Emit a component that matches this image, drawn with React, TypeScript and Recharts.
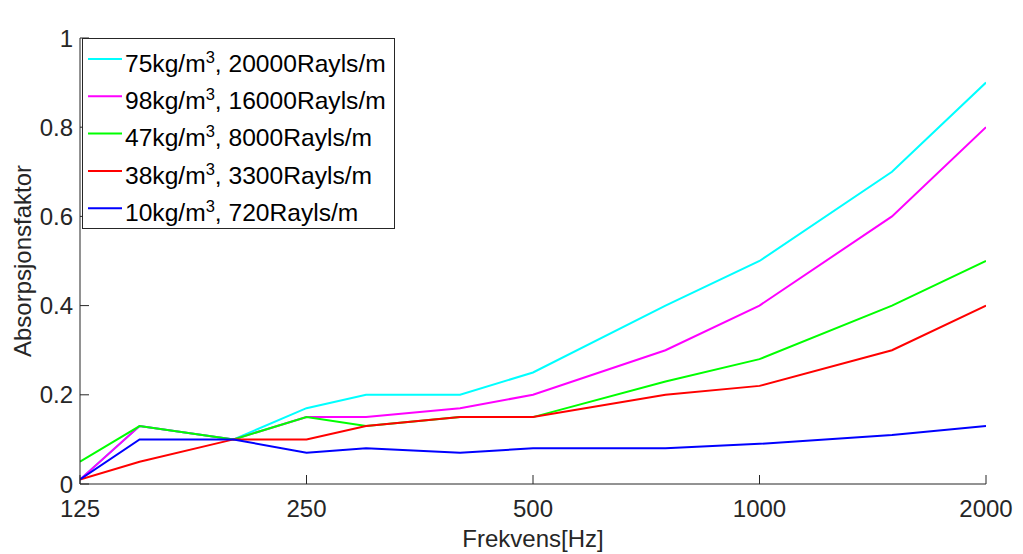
import React from 'react';
import { LineChart, Line, XAxis, YAxis, Legend, Label } from 'recharts';

const FREQS = [125, 150, 200, 250, 300, 400, 500, 750, 1000, 1500, 2000];
const CYAN_75 = [0.01, 0.13, 0.10, 0.17, 0.20, 0.20, 0.25, 0.40, 0.50, 0.70, 0.90];
const MAGENTA_98 = [0.01, 0.13, 0.10, 0.15, 0.15, 0.17, 0.20, 0.30, 0.40, 0.60, 0.80];
const GREEN_47 = [0.05, 0.13, 0.10, 0.15, 0.13, 0.15, 0.15, 0.23, 0.28, 0.40, 0.50];
const RED_38 = [0.01, 0.05, 0.10, 0.10, 0.13, 0.15, 0.15, 0.20, 0.22, 0.30, 0.40];
const BLUE_10 = [0.01, 0.10, 0.10, 0.07, 0.08, 0.07, 0.08, 0.08, 0.09, 0.11, 0.13];

const X_TICKS = [125, 250, 500, 1000, 2000];
const Y_TICKS = [0, 0.2, 0.4, 0.6, 0.8, 1];

const SERIES = [
  { key: 's75', values: CYAN_75, color: '#00FFFF', dens: '75', rest: ', 20000Rayls/m' },
  { key: 's98', values: MAGENTA_98, color: '#FF00FF', dens: '98', rest: ', 16000Rayls/m' },
  { key: 's47', values: GREEN_47, color: '#00FF00', dens: '47', rest: ', 8000Rayls/m' },
  { key: 's38', values: RED_38, color: '#FF0000', dens: '38', rest: ', 3300Rayls/m' },
  { key: 's10', values: BLUE_10, color: '#0000FF', dens: '10', rest: ', 720Rayls/m' },
];

const data = FREQS.map((f, i) => {
  const row: Record<string, number> = { freq: f };
  SERIES.forEach((s) => {
    row[s.key] = s.values[i];
  });
  return row;
});

const FONT = '"Liberation Sans", Arial, Helvetica, sans-serif';
const AX = '#262626';
const TICK_LEN = 9;
const FS = 24;

const BottomTick = (props: any) => {
  const { x, y, payload } = props;
  const axisY = y - 16;
  return (
    <g>
      <line x1={x} x2={x} y1={axisY} y2={axisY - TICK_LEN} stroke={AX} strokeWidth={1} />
      <text x={x} y={y} dy={17} textAnchor="middle" fontFamily={FONT} fontSize={FS} fill={AX}>
        {String(payload.value)}
      </text>
    </g>
  );
};

const TopTick = (props: any) => {
  const { x, y } = props;
  return <line x1={x} x2={x} y1={y} y2={y + TICK_LEN} stroke={AX} strokeWidth={1} />;
};

const LeftTick = (props: any) => {
  const { x, y, payload } = props;
  const axisX = x + 7;
  return (
    <g>
      <line x1={axisX} x2={axisX + TICK_LEN} y1={y} y2={y} stroke={AX} strokeWidth={1} />
      <text x={x} y={y} dy={8.5} textAnchor="end" fontFamily={FONT} fontSize={FS} fill={AX}>
        {String(Math.round(payload.value * 10) / 10)}
      </text>
    </g>
  );
};

const RightTick = (props: any) => {
  const { x, y } = props;
  return <line x1={x} x2={x - TICK_LEN} y1={y} y2={y} stroke={AX} strokeWidth={1} />;
};

const LegendBox = () => {
  const w = 313;
  const h = 191;
  const rowH = 37.3;
  return (
    <svg width={w} height={h} style={{ display: 'block' }}>
      <rect x={0.5} y={0.5} width={w - 1} height={h - 1} fill="#fff" stroke={AX} strokeWidth={1} />
      {SERIES.map((s, i) => {
        const ly = 21 + i * rowH;
        return (
          <g key={s.key}>
            <line x1={6} x2={40} y1={ly} y2={ly} stroke={s.color} strokeWidth={2} />
            <text x={43} y={ly + 12.7} fontFamily={FONT} fontSize={24.6} fill="#000">
              {s.dens}kg/m
              <tspan dy={-9} fontSize={16.5}>3</tspan>
              <tspan dy={9}>{s.rest}</tspan>
            </text>
          </g>
        );
      })}
    </svg>
  );
};

export default function App() {
  return (
    <div style={{ position: 'absolute', left: 0, top: 0, width: 1023, height: 554, background: '#fff' }}>
      <LineChart width={1023} height={554} data={data} margin={{ top: 38, right: 37, bottom: 0, left: 0 }}>
        <XAxis
          xAxisId="b"
          dataKey="freq"
          type="number"
          scale="log"
          domain={[125, 2000]}
          ticks={X_TICKS}
          allowDataOverflow
          height={70}
          tickSize={0}
          tickMargin={16}
          tick={BottomTick}
          tickLine={false}
          axisLine={{ stroke: AX }}
        >
          <Label
            content={(p: any) => {
              const vb = p.viewBox;
              return (
                <text x={vb.x + vb.width / 2} y={547} textAnchor="middle" fontFamily={FONT} fontSize={FS} fill={AX}>
                  Frekvens[Hz]
                </text>
              );
            }}
          />
        </XAxis>
        <XAxis
          xAxisId="t"
          orientation="top"
          dataKey="freq"
          type="number"
          scale="log"
          domain={[125, 2000]}
          ticks={X_TICKS}
          allowDataOverflow
          height={0}
          tickSize={0}
          tickMargin={0}
          tick={TopTick}
          tickLine={false}
          axisLine={{ stroke: AX }}
        >
          <Label
            content={(p: any) => {
              const vb = p.viewBox;
              return (
                <text x={vb.x + vb.width / 2} y={26} textAnchor="middle" fontFamily={FONT} fontSize={25} fontWeight="bold" fill="#000">
                  Absorpsjon avhengig av tetthet
                </text>
              );
            }}
          />
        </XAxis>
        <YAxis
          yAxisId="l"
          type="number"
          domain={[0, 1]}
          ticks={Y_TICKS}
          allowDataOverflow
          width={80}
          tickSize={0}
          tickMargin={7}
          tick={LeftTick}
          tickLine={false}
          axisLine={{ stroke: AX }}
        >
          <Label
            content={(p: any) => {
              const vb = p.viewBox;
              const cy = vb.y + vb.height / 2;
              return (
                <text
                  x={31}
                  y={cy}
                  transform={`rotate(-90 31 ${cy})`}
                  textAnchor="middle"
                  fontFamily={FONT}
                  fontSize={FS}
                  fill={AX}
                >
                  Absorpsjonsfaktor
                </text>
              );
            }}
          />
        </YAxis>
        <YAxis
          yAxisId="r"
          orientation="right"
          type="number"
          domain={[0, 1]}
          ticks={Y_TICKS}
          allowDataOverflow
          width={0}
          tickSize={0}
          tickMargin={0}
          tick={RightTick}
          tickLine={false}
          axisLine={{ stroke: AX }}
        />
        <Legend
          layout="vertical"
          align="center"
          verticalAlign="middle"
          wrapperStyle={{ left: 82, top: 38, width: 313, height: 191 }}
          content={() => <LegendBox />}
        />
        {SERIES.map((s) => (
          <Line
            key={s.key}
            xAxisId="b"
            yAxisId="l"
            type="linear"
            dataKey={s.key}
            stroke={s.color}
            strokeWidth={2}
            dot={false}
            activeDot={false}
            isAnimationActive={false}
          />
        ))}
      </LineChart>
    </div>
  );
}
